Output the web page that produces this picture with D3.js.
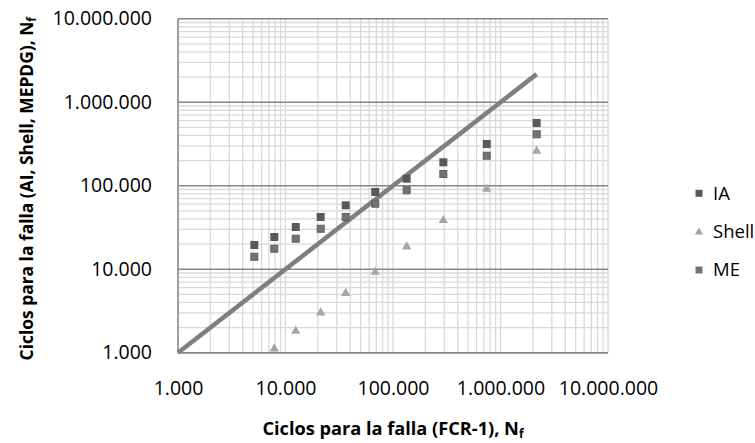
<!DOCTYPE html>
<html>
<head>
<meta charset="utf-8">
<script src="https://cdn.jsdelivr.net/npm/d3@7"></script>
<style>
  body { margin: 0; background: #fff; }
  text { font-family: "Open Sans", sans-serif; fill: #000; }
</style>
</head>
<body>
<div id="vis"></div>
<script>
// cycles to failure, FCR-1 (x) against the other models (y)
var cycles = [5130, 7870, 12450, 21240, 36300, 68400, 134000, 294000, 745000, 2170000],
    ia     = [19500, 24300, 32000, 42200, 58200, 84100, 121300, 190700, 315700, 563600],
    shell  = [null, 1117, 1820, 3010, 5150, 9250, 18600, 38500, 91300, 260500],
    me     = [14100, 17600, 23200, 30500, 42200, 60900, 88100, 138000, 228700, 412800],
    lineEnds = [1000, 2170000],
    xTicks = [1000, 10000, 100000, 1000000, 10000000],
    yTicks = [1000, 10000, 100000, 1000000, 10000000],
    seriesNames = ["IA", "Shell", "ME"];

var width = 755,
    height = 443,
    pLeft = 178, pRight = 608, pTop = 18.7, pBottom = 352.7;

var fmt = d3.formatLocale({decimal: ",", thousands: ".", grouping: [3], currency: ["", ""]}).format(",d");

var x = d3.scaleLog().domain([1000, 10000000]).range([pLeft, pRight]),
    y = d3.scaleLog().domain([1000, 10000000]).range([pBottom, pTop]);

var svg = d3.select("#vis").append("svg")
    .attr("width", width)
    .attr("height", height);

// minor values 2..9 per decade
var minors = [];
for (var e = 3; e < 7; e++) {
  for (var m = 2; m < 10; m++) minors.push(m * Math.pow(10, e));
}

var grid = svg.append("g");

grid.selectAll(".vx").data(minors.concat(xTicks)).enter()
    .append("line")
    .attr("x1", function(d){return x(d)})
    .attr("x2", function(d){return x(d)})
    .attr("y1", pTop)
    .attr("y2", pBottom)
    .attr("stroke", "#d9d9d9")
    .attr("stroke-width", 1.3);

grid.selectAll(".hy").data(minors).enter()
    .append("line")
    .attr("x1", pLeft)
    .attr("x2", pRight)
    .attr("y1", function(d){return y(d)})
    .attr("y2", function(d){return y(d)})
    .attr("stroke", "#d9d9d9")
    .attr("stroke-width", 1.3);

grid.selectAll(".hmaj").data(yTicks).enter()
    .append("line")
    .attr("x1", pLeft)
    .attr("x2", pRight)
    .attr("y1", function(d){return y(d)})
    .attr("y2", function(d){return y(d)})
    .attr("stroke", "#868686")
    .attr("stroke-width", 1.5);

// axis lines
svg.append("line")
    .attr("x1", pLeft).attr("x2", pLeft)
    .attr("y1", pTop).attr("y2", pBottom)
    .attr("stroke", "#868686").attr("stroke-width", 1.5);
svg.append("line")
    .attr("x1", pLeft).attr("x2", pRight)
    .attr("y1", pBottom).attr("y2", pBottom)
    .attr("stroke", "#868686").attr("stroke-width", 1.5);

// tick labels via d3 axes, no tick marks
var xAxis = svg.append("g")
    .attr("transform", "translate(0," + pBottom + ")")
    .call(d3.axisBottom(x).tickValues(xTicks).tickFormat(fmt).tickSize(0).tickPadding(28));
var yAxis = svg.append("g")
    .attr("transform", "translate(" + pLeft + ",0)")
    .call(d3.axisLeft(y).tickValues(yTicks).tickFormat(fmt).tickSize(0).tickPadding(26));
[xAxis, yAxis].forEach(function(a){
  a.select(".domain").remove();
  a.selectAll("text").attr("font-family", "Open Sans").attr("font-size", 19.5).attr("fill", "#000");
});

// equality line
var plot = svg.append("g");
plot.append("line")
    .attr("x1", x(lineEnds[0])).attr("y1", y(lineEnds[0]))
    .attr("x2", x(lineEnds[1])).attr("y2", y(lineEnds[1]))
    .attr("stroke", "#7f7f7f")
    .attr("stroke-width", 4.5);

var sq = 8,
    tri = d3.symbol().type(d3.symbolTriangle).size(38);

plot.selectAll(".ia").data(cycles).enter()
    .append("rect")
    .attr("x", function(d){return x(d) - sq/2})
    .attr("y", function(d, i){return y(ia[i]) - sq/2})
    .attr("width", sq).attr("height", sq)
    .attr("fill", "#595959");

plot.selectAll(".me").data(cycles).enter()
    .append("rect")
    .attr("x", function(d){return x(d) - sq/2 + 0.5})
    .attr("y", function(d, i){return y(me[i]) - sq/2 + 0.5})
    .attr("width", sq - 1).attr("height", sq - 1)
    .attr("fill", "#737373")
    .attr("stroke", "#5f5f5f")
    .attr("stroke-width", 1);

plot.selectAll(".shell").data(cycles.filter(function(d, i){return shell[i] != null})).enter()
    .append("path")
    .attr("d", tri)
    .attr("fill", "#a6a6a6")
    .attr("transform", function(d){
      var i = cycles.indexOf(d);
      return "translate(" + x(d) + "," + y(shell[i]) + ")";
    });

// legend
var legend = svg.append("g");
var ly = [193.3, 231.7, 270];
seriesNames.forEach(function(name, i){
  if (name == "Shell") {
    legend.append("path")
        .attr("d", d3.symbol().type(d3.symbolTriangle).size(30))
        .attr("fill", "#a6a6a6")
        .attr("transform", "translate(699," + (ly[i] + 0.5) + ")");
  } else {
    legend.append("rect")
        .attr("x", 695.5).attr("y", ly[i] - 3.5)
        .attr("width", 7).attr("height", 7)
        .attr("fill", name == "IA" ? "#595959" : "#737373");
  }
  legend.append("text")
      .attr("x", 713).attr("y", ly[i])
      .attr("dy", "0.35em")
      .attr("font-size", 18.5)
      .text(name);
});

// axis titles
var xt = svg.append("text")
    .attr("x", (pLeft + pRight) / 2)
    .attr("y", 435)
    .attr("text-anchor", "middle")
    .attr("font-weight", "bold")
    .attr("font-size", 18.2);
xt.append("tspan").text("Ciclos para la falla (FCR-1), N");
xt.append("tspan").attr("font-size", 12).attr("dy", 3).text("f");

var yt = svg.append("text")
    .attr("transform", "translate(33," + ((pTop + pBottom) / 2 + 3) + ") rotate(-90)")
    .attr("text-anchor", "middle")
    .attr("font-weight", "bold")
    .attr("font-size", 17.4);
yt.append("tspan").text("Ciclos para la falla (AI, Shell, MEPDG), N");
yt.append("tspan").attr("font-size", 12).attr("dy", 3).text("f");
</script>
</body>
</html>
